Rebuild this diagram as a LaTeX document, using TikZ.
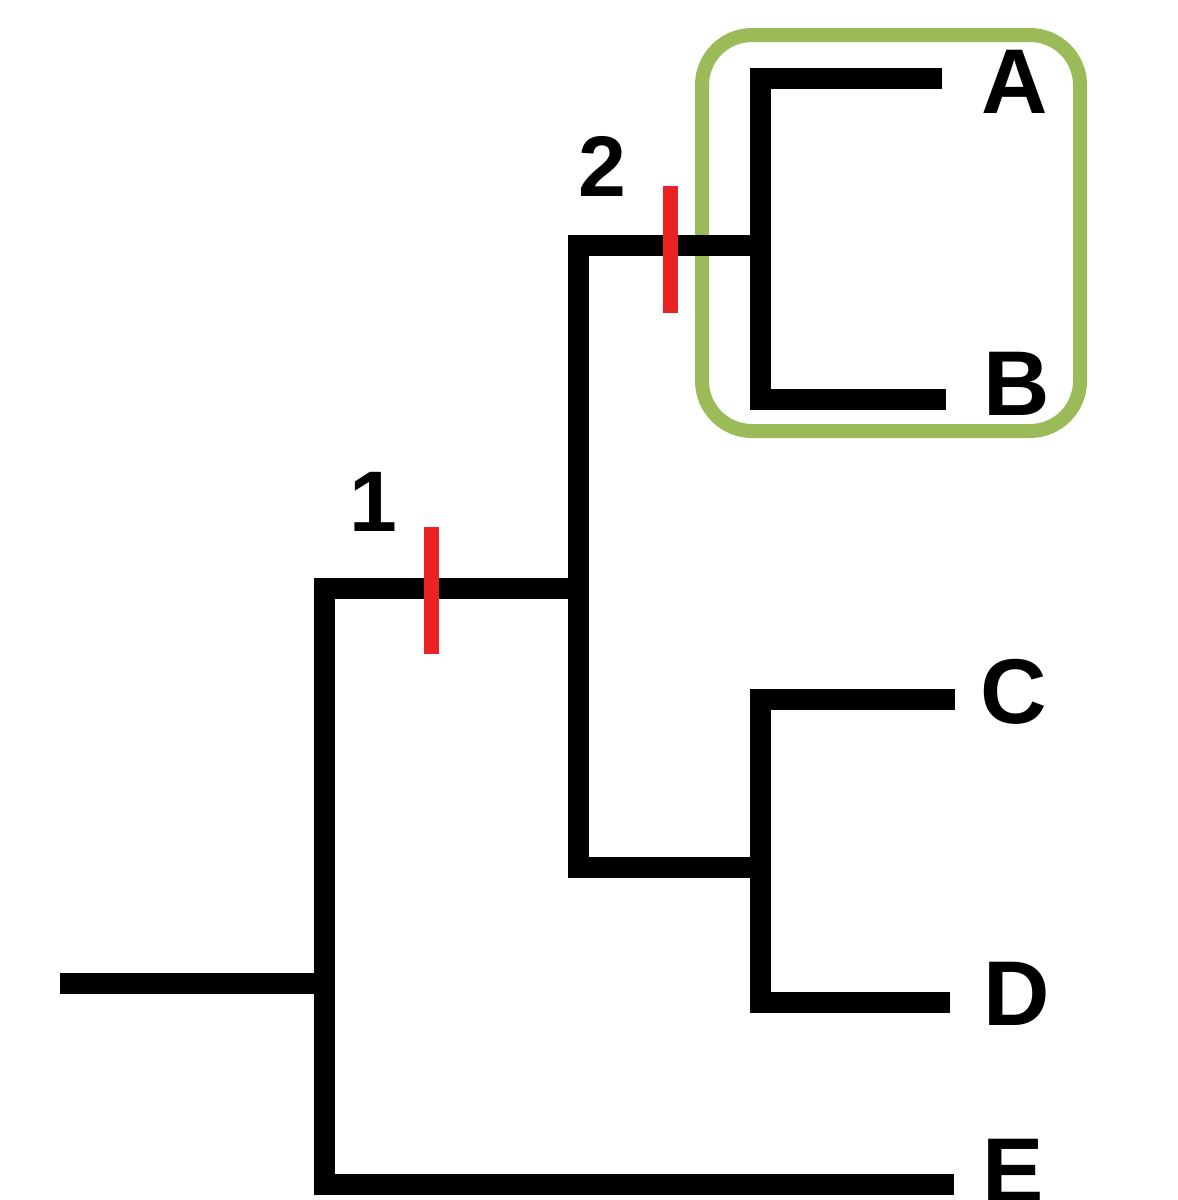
\documentclass[tikz,border=0pt]{standalone}
\usepackage{fontspec}
\setmainfont{Liberation Sans}
\begin{document}
\begin{tikzpicture}[x=1pt,y=-1pt,
  branch/.style={line width=21pt, line join=miter, line cap=butt, black},
  tick/.style={line width=15pt, draw={rgb,255:red,234;green,34;blue,34}},
  taxon/.style={font=\fontsize{92}{92}\selectfont\bfseries, inner sep=0pt, anchor=center},
  digit/.style={font=\fontsize{86}{86}\selectfont\bfseries, inner sep=0pt, anchor=center},
  clade/.style={draw={rgb,255:red,155;green,187;blue,89}, line width=14pt, rounded corners=50pt}]
\path[use as bounding box] (0,0) rectangle (1178,1200);
\clip (0,0) rectangle (1178,1200);
% internal points
\coordinate (root) at (60,983);
\coordinate (n1) at (324,983);
\coordinate (n1t) at (324,588);
\coordinate (n1b) at (324,1184);
\coordinate (n2) at (578,588);
\coordinate (n2t) at (578,245);
\coordinate (n2b) at (578,867);
\coordinate (n3) at (760,245);
\coordinate (n3t) at (760,78);
\coordinate (n3b) at (760,399);
\coordinate (n4) at (760,867);
\coordinate (n4t) at (760,699);
\coordinate (n4b) at (760,1002);
\coordinate (tA) at (942,78);
\coordinate (tB) at (946,399);
\coordinate (tC) at (955,699);
\coordinate (tD) at (950,1002);
\coordinate (tE) at (954,1184);
% labels
\node[taxon] (A) at (1015,82) {A};
\node[taxon] (B) at (1017,384) {B};
\node[taxon] (C) at (1014,692) {C};
\node[taxon] (D) at (1017,994) {D};
\node[taxon] (E) at (1013,1171) {E};
\node[digit] (l1) at (373,502) {1};
\node[digit] (l2) at (602,166) {2};
% green clade box
\draw[clade] (702,35) rectangle (1080,431);
% tree
\draw[branch] (root) -- (n1);
\draw[branch] (n2) -- (n1t) -- (n1b) -- (tE);
\draw[branch] (n3) -- (n2t) -- (n2b) -- (n4);
\draw[branch] (tA) -- (n3t) -- (n3b) -- (tB);
\draw[branch] (tC) -- (n4t) -- (n4b) -- (tD);
% synapomorphy ticks
\coordinate (k1t) at (431,527);
\coordinate (k1b) at (431,654);
\coordinate (k2t) at (670,186);
\coordinate (k2b) at (670,313);
\draw[tick] (k1t) -- (k1b);
\draw[tick] (k2t) -- (k2b);
\end{tikzpicture}
\end{document}
